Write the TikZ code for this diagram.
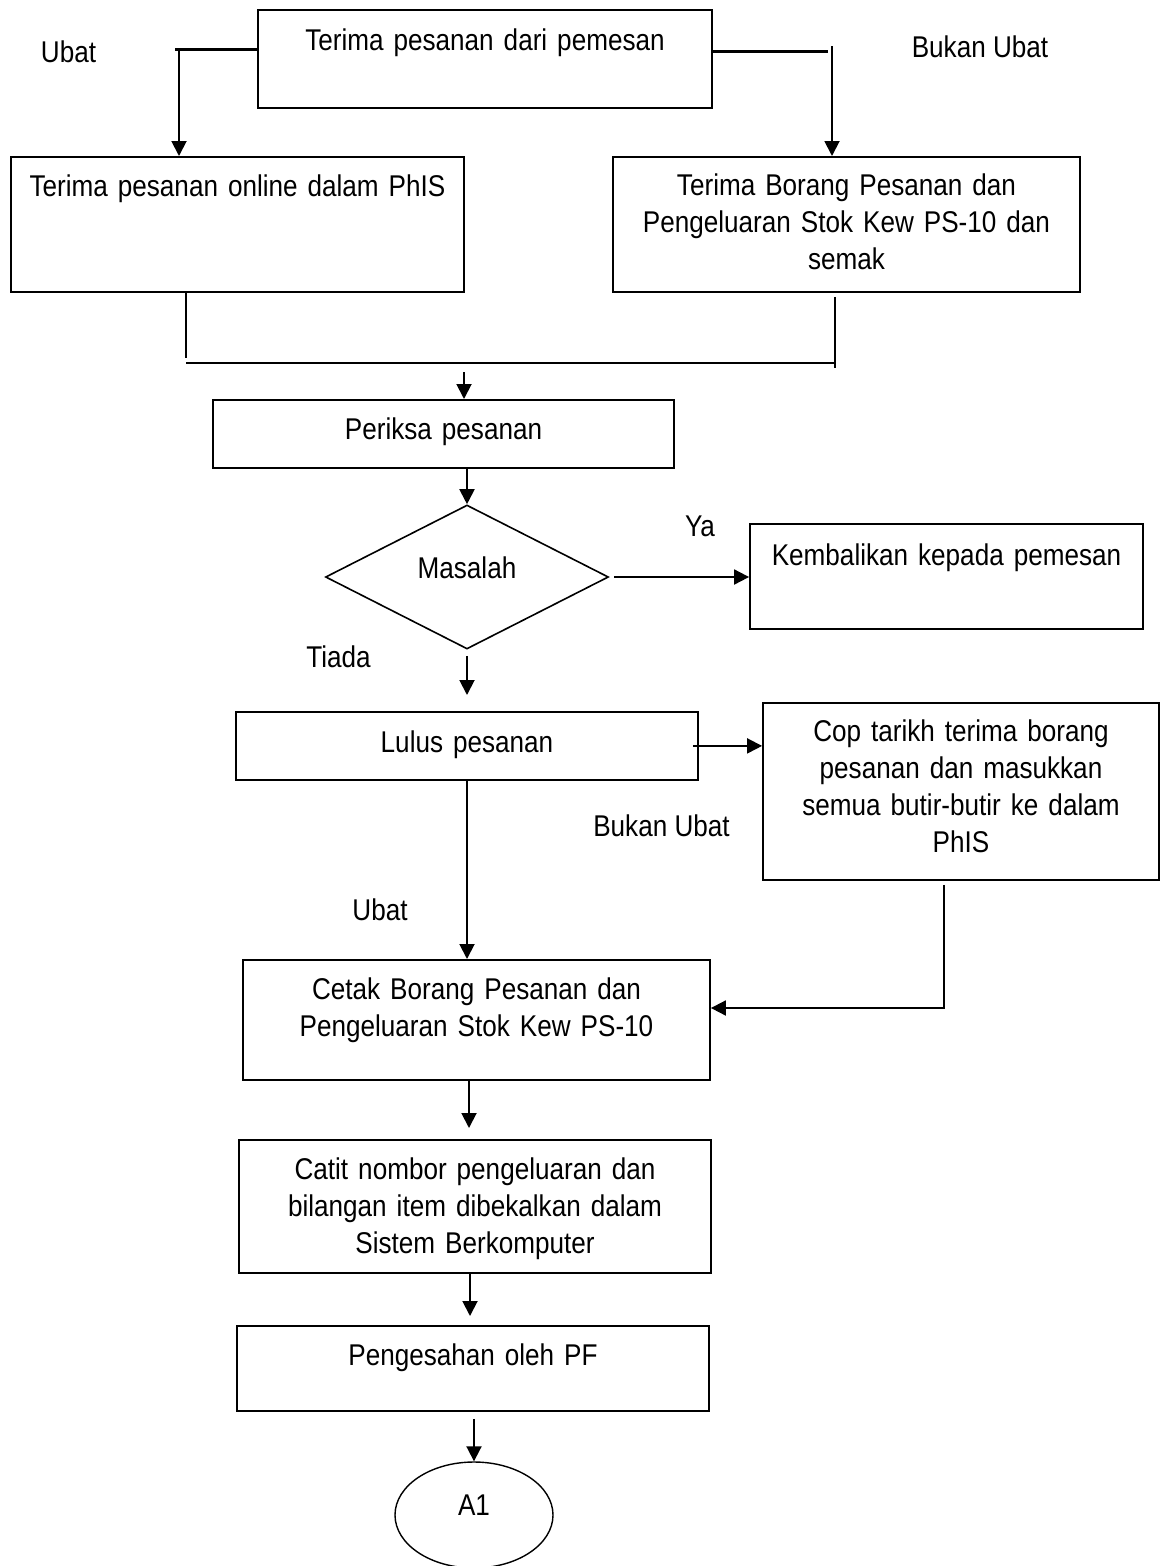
\documentclass[tikz,border=0pt]{standalone}
\usepackage{fontspec}
\setmainfont{Liberation Sans}[FakeStretch=0.87]
\usetikzlibrary{shapes.geometric, arrows.meta, positioning}

\begin{document}
\begin{tikzpicture}[
    x=1pt, y=-1pt,
    every node/.style={font=\fontsize{30}{37}\selectfont},
    proc/.style={
        rectangle,
        draw=black,
        line width=1.8pt,
        anchor=north,
        inner sep=0pt,
        align=center
    },
    decision/.style={
        diamond,
        draw=black,
        line width=1.6pt,
        minimum width=283pt,
        minimum height=144pt,
        inner sep=0pt,
        text height=11pt,
        text depth=9pt
    },
    terminal/.style={
        ellipse,
        draw=black,
        line width=1.4pt,
        minimum width=158pt,
        minimum height=106pt,
        inner sep=0pt,
        text height=10pt,
        text depth=10pt
    },
    tag/.style={anchor=base, inner sep=0pt},
    link/.style={line width=1.8pt},
    flow/.style={line width=1.9pt, -{Triangle[length=15pt, width=15pt]}},
    thickbar/.style={line width=3pt}
]
\useasboundingbox (0,0) rectangle (1160,1566);

% boxes
\node[proc, minimum width=454pt, text width=440pt, text height=41pt, text depth=57pt] (order) at (485,9) {Terima pesanan dari pemesan};
\node[proc, minimum width=453pt, text width=440pt, text height=40pt, text depth=95pt] (online) at (237.5,156) {Terima pesanan online dalam PhIS};
\node[proc, minimum width=467pt, text width=450pt, text height=39pt, text depth=96pt] (borang) at (846.5,156) {Terima Borang Pesanan dan\\Pengeluaran Stok Kew PS-10 dan\\semak};
\node[proc, minimum width=461pt, text width=440pt, text height=40pt, text depth=28pt] (periksa) at (443.5,399) {Periksa pesanan};
\node[decision] (masalah) at (467,577) {Masalah};
\node[proc, minimum width=393pt, text width=380pt, text height=42pt, text depth=63pt] (kembali) at (946.5,523) {Kembalikan kepada pemesan};
\node[proc, minimum width=462pt, text width=440pt, text height=41pt, text depth=27pt] (lulus) at (467,711) {Lulus pesanan};
\node[proc, minimum width=396pt, text width=380pt, text height=39pt, text depth=138pt] (cop) at (961,702) {Cop tarikh terima borang\\pesanan dan masukkan\\semua butir-butir ke dalam\\PhIS};
\node[proc, minimum width=467pt, text width=450pt, text height=40pt, text depth=80pt] (cetak) at (476.5,959) {Cetak Borang Pesanan dan\\Pengeluaran Stok Kew PS-10};
\node[proc, minimum width=472pt, text width=450pt, text height=40pt, text depth=93pt] (catit) at (475,1139) {Catit nombor pengeluaran dan\\bilangan item dibekalkan dalam\\Sistem Berkomputer};
\node[proc, minimum width=472pt, text width=450pt, text height=40pt, text depth=45pt] (sah) at (473,1325) {Pengesahan oleh PF};
\node[terminal] (a1) at (474,1515) {A1};

% labels
\node[tag] (ubatA) at (68.5,62) {Ubat};
\node[tag] (bukanA) at (980,57) {Bukan Ubat};
\node[tag] (ya) at (700,536) {Ya};
\node[tag] (tiada) at (338.5,667) {Tiada};
\node[tag] (bukanB) at (661.5,836) {Bukan Ubat};
\node[tag] (ubatB) at (380,920) {Ubat};

% split and merge
\coordinate (splitL) at (179,49);
\coordinate (splitR) at (832,51);
\draw[thickbar] (order.west |- splitL) -- ([xshift=-4pt]splitL);
\draw[flow] (splitL) -- (splitL |- online.north);
\draw[thickbar] (order.east |- splitR) -- ([xshift=-4pt]splitR);
\draw[flow] ([yshift=5pt]splitR) -- (splitR |- borang.north);

\coordinate (mergeL) at (186,363);
\coordinate (mergeR) at (835,363);
\coordinate (mergeM) at (464,372);
\draw[link] (mergeL |- online.south) -- ([yshift=5pt]mergeL);
\draw[link] (mergeR |- borang.south) ++(0,4) -- ([yshift=-5pt]mergeR);
\draw[link, line width=2.6pt] (mergeL) -- (mergeR);
\draw[flow] (mergeM) -- (mergeM |- periksa.north);

% main flow
\draw[flow] (masalah.north |- periksa.south) -- (masalah.north);
\draw[flow] ([xshift=5pt]masalah.east) -- (masalah.east -| kembali.west);
\draw[flow] ([yshift=-6pt]masalah.south) -- ([yshift=16pt]lulus.north);
\draw[flow] ([xshift=-6pt]lulus.east) -- (lulus.east -| cop.west);
\draw[flow] (lulus.south) -- (lulus.south |- cetak.north);

\coordinate (copK) at (944,1008);
\draw[flow] (copK |- cop.south) ++(0,4) -- (copK) -- (copK -| cetak.east);

\draw[flow] ([xshift=-7.5pt]cetak.south) -- ([xshift=-6pt, yshift=11pt]catit.north);
\draw[flow] ([xshift=-5pt]catit.south) -- ([xshift=-3pt, yshift=9pt]sah.north);
\draw[flow] ([xshift=1pt, yshift=-7pt]sah.south) -- (a1.north);

\end{tikzpicture}
\end{document}
